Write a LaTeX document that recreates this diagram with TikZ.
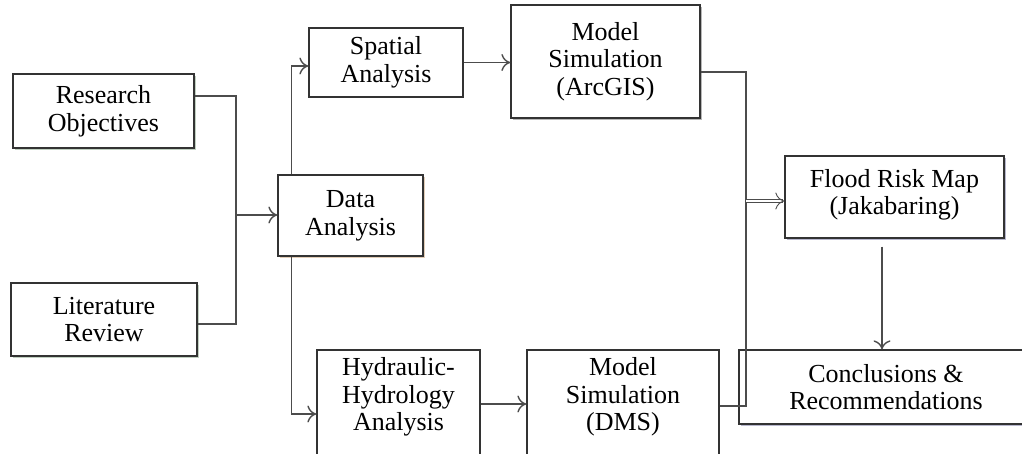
\documentclass[tikz,border=0pt]{standalone}
\usepackage{fontspec}
\setmainfont{Liberation Serif}
\usepackage{tikz}
\usetikzlibrary{positioning,arrows.meta,calc,shadows}
\tikzset{
  >={To[length=4.5pt,width=8.5pt]},
  box/.style={draw=black!80,fill=white,line width=0.65pt,inner sep=0pt,
    align=center,font=\fontsize{13}{13.8}\selectfont},
  shad/.style={drop shadow={shadow xshift=1pt,shadow yshift=-1pt,
    fill=#1,opacity=0.7}},
  shad/.default=black!40,
  link/.style={draw=black!70,line width=0.7pt},
  flow/.style={link,->},
  dflow/.style={link,->,double=white,double distance=1.3pt,line width=0.45pt},
}
\begin{document}
\begin{tikzpicture}[x=0.5pt,y=-0.5pt]
  \clip (0,0) rectangle (1022,454);
  % input boxes
  \node[box,shad=green!25!black!35,minimum width=90.5pt,minimum height=37pt]
    (ro) at (103.5,111) {Research\\Objectives};
  \node[box,shad=green!25!black!35,minimum width=93pt,minimum height=36.5pt]
    (lr) at (104,319.5) {Literature\\Review};
  \node[box,shad=orange!60!black!40,minimum width=72.5pt,minimum height=40.5pt]
    (da) at (350.5,215.5) {Data\\Analysis};
  % upper branch
  \node[box,minimum width=77pt,minimum height=34.5pt]
    (sa) at (386,62.5) {Spatial\\Analysis};
  \node[box,shad,minimum width=94.5pt,minimum height=56.5pt]
    (msa) at (605.5,61.5) {Model\\Simulation\\(ArcGIS)};
  % lower branch
  \node[box,minimum width=81.5pt,minimum height=54pt,text depth=10pt]
    (hha) at (398.5,404) {Hydraulic-\\Hydrology\\Analysis};
  \node[box,minimum width=96pt,minimum height=54pt,text depth=10pt]
    (dms) at (623,404) {Model\\Simulation\\(DMS)};
  % outputs
  \node[box,shad=blue!30!black!40,minimum width=109.5pt,minimum height=41pt,text depth=5pt]
    (frm) at (894.5,197) {Flood Risk Map\\(Jakabaring)};
  \node[box,shad=blue!30!black!40,minimum width=147pt,minimum height=37pt]
    (cr) at (886,387) {Conclusions \&\\Recommendations};
  % junctions
  \coordinate (jn) at (236,215);
  \coordinate (mx) at (746,201);
  % connectors
  \draw[link] ([yshift=7.5pt]ro.east) -| (jn);
  \draw[link] ([yshift=-2.25pt]lr.east) -| (jn);
  \draw[flow] (jn) -- (da.west |- jn);
  \draw[flow] ([xshift=7pt]da.north west) |- ([yshift=-1.75pt]sa.west);
  \draw[flow] ([xshift=7pt]da.south west) |- ([yshift=-5pt]hha.west);
  \draw[flow] (sa.east) -- (sa.east -| msa.west);
  \draw[flow] (hha.east) -- (hha.east -| dms.west);
  \draw[link] ([yshift=-5.25pt]msa.east) -| (mx);
  \draw[link] ([yshift=-1pt]dms.east) -| (mx);
  \draw[dflow] (mx) -- (mx -| frm.west);
  \draw[flow,shorten <=4pt] ([xshift=-6.25pt]frm.south) -- ([xshift=-6.25pt]frm.south |- cr.north);
\end{tikzpicture}
\end{document}
